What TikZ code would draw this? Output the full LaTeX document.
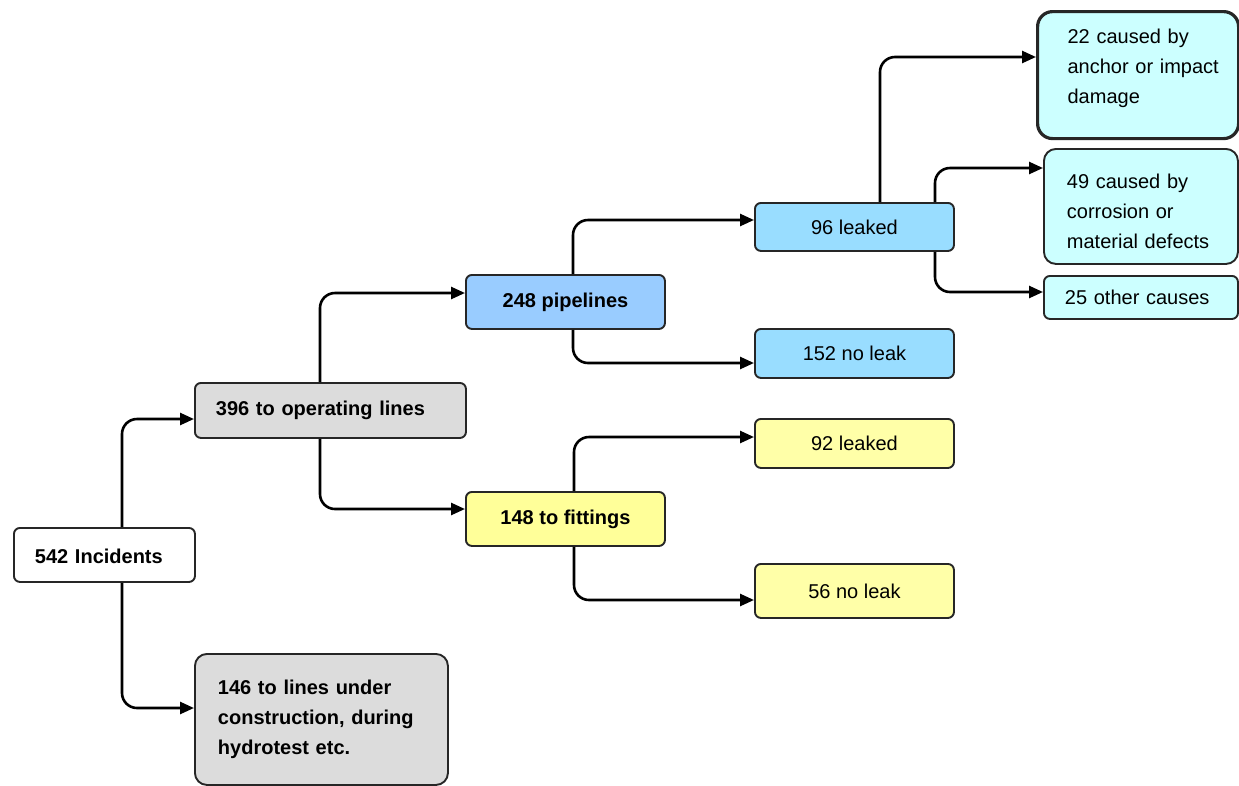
\documentclass[tikz,border=0pt]{standalone}
\usepackage{fontspec}
\setmainfont{Liberation Sans}
\usetikzlibrary{arrows.meta}
\definecolor{grayf}{HTML}{DCDCDC}
\definecolor{pipef}{HTML}{99CCFF}
\definecolor{leakf}{HTML}{99DDFF}
\definecolor{yelf}{HTML}{FFFF99}
\definecolor{yelg}{HTML}{FFFFA8}
\definecolor{cyanf}{HTML}{CCFFFF}
\begin{document}
\begin{tikzpicture}[x=1pt,y=-1pt,
  box/.style={draw=black!85, line width=1.9pt, rounded corners=6pt, anchor=north west,
    inner ysep=0pt, font=\fontsize{20}{30}\selectfont},
  boldbox/.style={box, font=\fontsize{20}{30}\selectfont\bfseries},
  cbox/.style={minimum width=199, align=center, inner xsep=0pt},
  conn/.style={line width=2.6pt, rounded corners=15pt, -{Triangle[length=14pt,width=12pt]}}]
\useasboundingbox (0,0) rectangle (1239,785);
\fill[white] (0,0) rectangle (1239,785);

% level 0
\node[boldbox, fill=white, minimum width=181, minimum height=54, text width=139, inner xsep=21, align=left] (inc) at (13,527) {\rule{0pt}{17pt}542 Incidents};
% level 1
\node[boldbox, fill=grayf, minimum width=271, minimum height=55, text width=229, inner xsep=21, align=left] (op) at (194,382) {396 to operating lines};
\node[boldbox, fill=grayf, rounded corners=12pt, minimum width=253, minimum height=131, text width=207, inner xsep=23, align=left] (con) at (194,653) {146 to lines under\\construction, during\\hydrotest etc.};
% level 2
\node[boldbox, cbox, fill=pipef, minimum height=54] (pipe) at (465,274) {248 pipelines};
\node[boldbox, cbox, fill=yelf, minimum height=54] (fit) at (465,491) {148 to fittings};
% level 3
\node[box, cbox, fill=leakf, minimum height=48] (lk96) at (754,202) {96 leaked};
\node[box, cbox, fill=leakf, minimum height=49] (nl152) at (754,328) {152 no leak};
\node[box, cbox, fill=yelg, minimum height=49] (lk92) at (754,418) {92 leaked};
\node[box, cbox, fill=yelg, minimum height=54] (nl56) at (754,563) {56 no leak};
% level 4
\node[box, fill=cyanf, line width=3.2pt, rounded corners=15pt, minimum width=201, minimum height=127, text width=141, inner xsep=30, align=left] (c22) at (1036,10) {\mbox{22 caused by}\\\mbox{anchor or impact}\\\mbox{damage}\rule[-18pt]{0pt}{1pt}};
\node[box, fill=cyanf, rounded corners=12pt, minimum width=194, minimum height=115, text width=148, inner xsep=23, align=left] (c49) at (1043,148) {\rule{0pt}{25pt}49 caused by\\corrosion or\\\mbox{material defects}};
\node[box, fill=cyanf, minimum width=194, minimum height=43, text width=152, inner xsep=21, align=left] (c25) at (1043,275) {25 other causes};

% connectors
\draw[conn] (inc.north -| 122,0) |- (op.west |- 0,419);
\draw[conn] (inc.south -| 122,0) |- (con.west |- 0,708);
\draw[conn] (op.north -| 320,0) |- (pipe.west |- 0,293);
\draw[conn] (op.south -| 320,0) |- (fit.west |- 0,509);
\draw[conn] (pipe.north -| 573,0) |- (lk96.west |- 0,220);
\draw[conn] (pipe.south -| 573,0) |- (nl152.west |- 0,363);
\draw[conn] (fit.north -| 574,0) |- (lk92.west |- 0,437);
\draw[conn] (fit.south -| 574,0) |- (nl56.west |- 0,600);
\draw[conn] (lk96.north -| 880,0) |- (c22.west |- 0,57);
\draw[conn] (lk96.north -| 935,0) |- (c49.west |- 0,168);
\draw[conn] (lk96.south -| 935,0) |- (c25.west |- 0,292);
\end{tikzpicture}
\end{document}
